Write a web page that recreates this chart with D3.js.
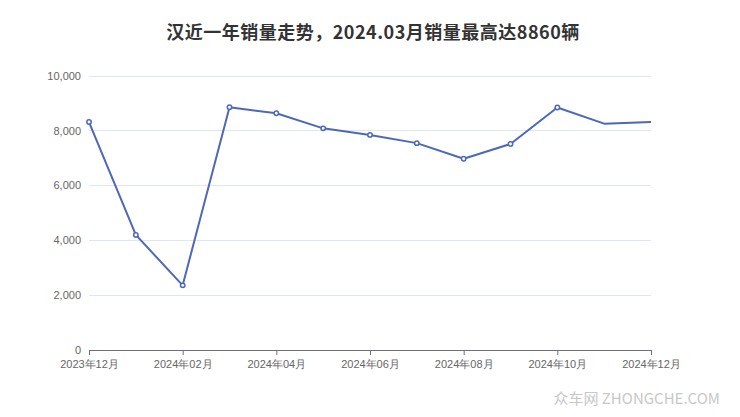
<!DOCTYPE html>
<html><head><meta charset="utf-8">
<script src="https://cdn.jsdelivr.net/npm/d3@7"></script>
<style>body{margin:0;background:#fff;}svg{display:block;font-family:"Noto Sans CJK SC","Liberation Sans",sans-serif;}</style>
</head><body><svg id="c" width="740" height="417"></svg>
<script>
const months = ["2023-12","2024-01","2024-02","2024-03","2024-04","2024-05","2024-06","2024-07","2024-08","2024-09","2024-10","2024-11","2024-12"];
const sales = [8320,4200,2360,8860,8640,8090,7850,7550,6980,7520,8850,8260,8320];
const tickLabels = ["2023年12月","2024年02月","2024年04月","2024年06月","2024年08月","2024年10月","2024年12月"];
const yTicks = [0,2000,4000,6000,8000,10000];
const titleText = "汉近一年销量走势，2024.03月销量最高达8860辆";

const svg = d3.select("#c");
const L=89,R=651,T=76,B=350;
const x = d3.scalePoint().domain(months).range([L,R]);
const y = d3.scaleLinear().domain([0,10000]).range([B,T]);

svg.append("text").attr("x",373).attr("y",39).attr("text-anchor","middle")
  .attr("font-size",18).attr("letter-spacing",0.5).attr("font-weight","bold").attr("fill","#333").text(titleText);

// grid
svg.append("g").selectAll("line").data(yTicks.filter(d=>d>0)).join("line")
  .attr("x1",L).attr("x2",R).attr("y1",d=>y(d)).attr("y2",d=>y(d))
  .attr("stroke","#e0e6f1").attr("stroke-width",1).attr("shape-rendering","crispEdges");

// y labels
const fmt = d3.format(",");
svg.append("g").selectAll("text").data(yTicks).join("text")
  .attr("x",L-8).attr("y",d=>y(d)).attr("dy","0.35em").attr("text-anchor","end")
  .attr("font-size",11).attr("fill","#666").attr("font-family","Liberation Sans, sans-serif").text(d=>fmt(d));

// x axis
const tickMonths = months.filter((d,i)=>i%2===0);
const xAxis = d3.axisBottom(x).tickValues(tickMonths).tickSize(5)
  .tickFormat((d,i)=>tickLabels[i]);
const gx = svg.append("g").attr("transform",`translate(0,${B})`).call(xAxis);
gx.select(".domain").attr("stroke","#6e7079").attr("d",`M${L},0.5H${R}`);
gx.selectAll(".tick line").attr("stroke","#6e7079");
gx.selectAll(".tick text").attr("fill","#666").attr("font-size",11).attr("dy","0.9em");

// line
const line = d3.line().x((d,i)=>x(months[i])).y(d=>y(d));
svg.append("path").datum(sales).attr("d",line).attr("fill","none")
  .attr("stroke","#4d68b8").attr("stroke-width",2).attr("stroke-linejoin","round");

svg.append("g").selectAll("circle").data(sales.slice(0,11)).join("circle")
  .attr("cx",(d,i)=>x(months[i])).attr("cy",d=>y(d)).attr("r",2.2)
  .attr("fill","#fff").attr("stroke","#4d68b8").attr("stroke-width",1.5);

svg.append("text").attr("x",720).attr("y",404).attr("text-anchor","end")
  .attr("font-size",15).attr("fill","#c8c8c8").text("众车网 ZHONGCHE.COM");
</script></body></html>
